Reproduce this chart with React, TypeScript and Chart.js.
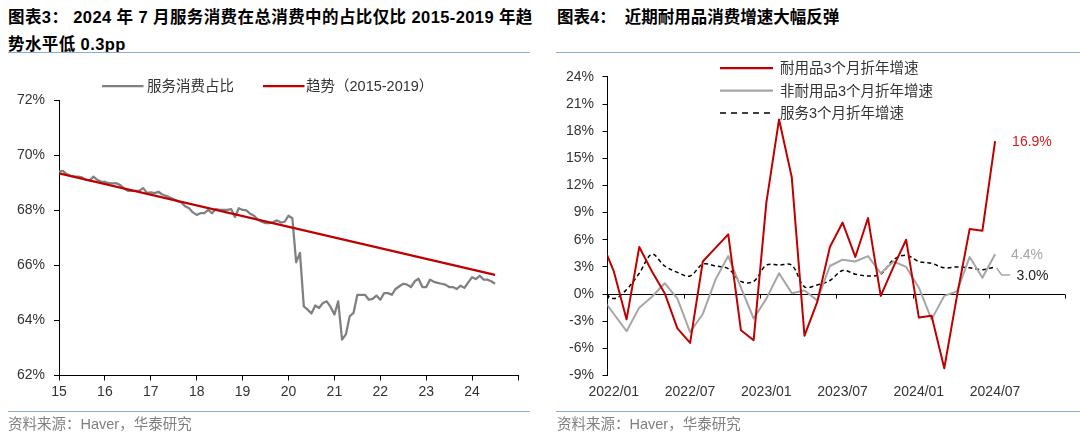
import React, { useEffect, useRef } from 'react';
import { Chart, registerables } from 'chart.js';

Chart.register(...registerables);

// ---------------- Left chart: services share of total consumption ----------------
const shareYearLabels = ['15', '16', '17', '18', '19', '20', '21', '22', '23', '24'];
const shareFirstYear = 15; // monthly series starts 2015/01
// monthly, 2015/01 .. 2024/07 (%)
const serviceShare = [
  69.40, 69.43, 69.31, 69.25, 69.23, 69.22, 69.19, 69.10, 69.08, 69.22, 69.10, 69.04,
  69.03, 68.98, 68.97, 68.98, 68.91, 68.79, 68.70, 68.70, 68.70, 68.71, 68.80, 68.63,
  68.65, 68.62, 68.67, 68.57, 68.52, 68.46, 68.40, 68.33, 68.28, 68.14, 68.07, 67.92,
  67.83, 67.89, 67.89, 68.01, 67.89, 68.04, 68.01, 68.01, 68.01, 68.04, 67.75, 68.07,
  68.01, 67.99, 67.87, 67.80, 67.65, 67.58, 67.53, 67.53, 67.57, 67.63, 67.55, 67.58,
  67.80, 67.71, 66.11, 66.45, 64.51, 64.39, 64.25, 64.54, 64.45, 64.63, 64.69, 64.49,
  64.21, 64.69, 63.30, 63.49, 64.15, 64.27, 64.93, 64.93, 64.93, 64.75, 64.78, 64.90,
  64.75, 64.99, 64.99, 64.93, 65.14, 65.24, 65.33, 65.30, 65.21, 65.42, 65.51, 65.21,
  65.21, 65.48, 65.40, 65.36, 65.33, 65.30, 65.21, 65.21, 65.14, 65.26, 65.18, 65.38,
  65.57, 65.50, 65.62, 65.48, 65.48, 65.42, 65.33,
];
// 2015-2019 trend line, endpoints at 2015/01 and 2024/07
const trendMonthIndex = [0, 114];
const trendValues = [69.34, 65.65];

// ---------------- Right chart: 3-month annualized growth ----------------
const growthMonths = [
  '2021/12',
  '2022/01', '2022/02', '2022/03', '2022/04', '2022/05', '2022/06',
  '2022/07', '2022/08', '2022/09', '2022/10', '2022/11', '2022/12',
  '2023/01', '2023/02', '2023/03', '2023/04', '2023/05', '2023/06',
  '2023/07', '2023/08', '2023/09', '2023/10', '2023/11', '2023/12',
  '2024/01', '2024/02', '2024/03', '2024/04', '2024/05', '2024/06',
  '2024/07',
];
const growthTickLabels = ['2022/01', '2022/07', '2023/01', '2023/07', '2024/01', '2024/07'];
const durableGrowth = [
  5.9,
  2.5, -2.8, 5.2, 2.5, 0.1, -3.8,
  -5.4, 3.6, 5.1, 6.6, -4.0, -5.1,
  10.1, 19.3, 12.9, -4.6, -0.9, 5.2,
  7.9, 4.1, 8.4, -0.2, 3.0, 6.0,
  -2.6, -2.4, -8.2, -0.2, 7.2, 7.0,
  16.9,
];
const nondurableGrowth = [
  -0.3,
  -2.2, -4.1, -1.5, -0.3, 1.2, -0.5,
  -4.2, -2.2, 1.6, 4.2, 0.7, -2.7,
  -0.5, 2.3, 0.1, 0.4, -0.7, 3.1,
  3.8, 3.6, 4.2, 2.3, 3.6, 3.0,
  0.7, -2.8, -0.2, 0.3, 4.1, 1.8,
  4.4,
];
const servicesGrowth = [
  0.5,
  -0.5, 0.5, 2.3, 4.4, 3.1, 2.4,
  2.0, 3.3, 3.1, 2.8, 1.4, 1.4,
  3.2, 3.2, 3.2, 0.8, 1.0, 1.5,
  2.6, 2.2, 2.0, 2.2, 3.8, 4.3,
  3.6, 3.4, 2.9, 3.0, 2.9, 2.7,
  3.0,
];

const RED = '#C00000';
const GREY_DARK = '#808080';
const GREY_LIGHT = '#A6A6A6';
const TEXT = '#333333';
const RULE = '#8EA9DB';
const FONT = "'Liberation Sans', 'Noto Sans CJK SC', Arial, sans-serif";

Chart.defaults.font.family = "'Liberation Sans', Arial, sans-serif";

function monthPos(label: string): number {
  const [y, m] = label.split('/').map(Number);
  return (y - 2022) * 12 + (m - 1) + 0.5;
}

const growthOverlay = {
  id: 'growthOverlay',
  beforeDatasetsDraw(chart: any) {
    const { ctx, chartArea, scales } = chart;
    const x = scales.x;
    const y = scales.y;
    const y0 = Math.round(y.getPixelForValue(0)) + 0.5;
    ctx.save();
    ctx.strokeStyle = '#000';
    ctx.lineWidth = 1;
    ctx.beginPath();
    ctx.moveTo(chartArea.left, y0);
    ctx.lineTo(chartArea.right, y0);
    x.ticks.forEach((t: any) => {
      const px = Math.round(x.getPixelForValue(t.value)) + 0.5;
      ctx.moveTo(px, y0);
      ctx.lineTo(px, y0 + 4);
    });
    ctx.stroke();
    ctx.restore();
  },
  afterDatasetsDraw(chart: any) {
    const { ctx } = chart;
    const last = growthMonths.length - 1;
    const pD = chart.getDatasetMeta(0).data[last];
    const pN = chart.getDatasetMeta(1).data[last];
    const pS = chart.getDatasetMeta(2).data[last];
    ctx.save();
    ctx.font = "14px 'Liberation Sans', Arial, sans-serif";
    ctx.textBaseline = 'middle';
    ctx.textAlign = 'left';
    ctx.fillStyle = '#D7191C';
    ctx.fillText(`${durableGrowth[last].toFixed(1)}%`, pD.x + 17, pD.y + 1);
    ctx.fillStyle = GREY_LIGHT;
    ctx.fillText(`${nondurableGrowth[last].toFixed(1)}%`, pN.x + 16, pN.y + 1);
    // leader line for services label
    ctx.strokeStyle = GREY_LIGHT;
    ctx.lineWidth = 1.5;
    ctx.beginPath();
    ctx.moveTo(pS.x + 1.5, pS.y + 1);
    ctx.lineTo(pS.x + 6.5, pS.y + 8);
    ctx.lineTo(pS.x + 15, pS.y + 8);
    ctx.stroke();
    ctx.fillStyle = '#222';
    ctx.fillText(`${servicesGrowth[last].toFixed(1)}%`, pS.x + 21.5, pS.y + 9.5);
    ctx.restore();
  },
};

function abs(left: number, cy: number, size: number, extra: any = {}): React.CSSProperties {
  return {
    position: 'absolute',
    left,
    top: cy - 10,
    height: 20,
    lineHeight: '20px',
    fontSize: size,
    fontFamily: FONT,
    whiteSpace: 'pre',
    color: TEXT,
    ...extra,
  };
}

export default function App() {
  const leftRef = useRef<HTMLCanvasElement | null>(null);
  const rightRef = useRef<HTMLCanvasElement | null>(null);

  useEffect(() => {
    document.body.style.margin = '0';
    const axisTicks = { color: TEXT, font: { size: 14 } };
    const left = new Chart(leftRef.current as HTMLCanvasElement, {
      type: 'line',
      data: {
        datasets: [
          {
            label: '趋势（2015-2019）',
            data: trendMonthIndex.map((m, k) => ({ x: shareFirstYear + m / 12, y: trendValues[k] })),
            borderColor: RED,
            borderWidth: 2.25,
            pointRadius: 0,
            tension: 0,
          },
          {
            label: '服务消费占比',
            data: serviceShare.map((v, i) => ({ x: shareFirstYear + i / 12, y: v })),
            borderColor: GREY_DARK,
            borderWidth: 2.25,
            borderJoinStyle: 'round',
            pointRadius: 0,
            tension: 0,
          },
        ],
      },
      options: {
        responsive: false,
        animation: false,
        devicePixelRatio: 1,
        events: [],
        layout: { padding: { top: 40, right: 22, left: 0, bottom: 0 } },
        plugins: { legend: { display: false }, tooltip: { enabled: false } },
        scales: {
          x: {
            type: 'linear',
            min: 15,
            max: 25,
            afterFit: (s: any) => { s.height = 34.5; },
            ticks: {
              ...axisTicks,
              stepSize: 1,
              autoSkip: false,
              maxRotation: 0,
              padding: 3,
              callback: (v: any) => shareYearLabels[Number(v) - shareFirstYear] ?? '',
            },
            grid: { drawOnChartArea: false, color: '#000', tickLength: 5, lineWidth: 1 },
            border: { color: '#000', width: 1 },
          },
          y: {
            type: 'linear',
            min: 62,
            max: 72,
            afterFit: (s: any) => { s.width = 59; },
            ticks: { ...axisTicks, stepSize: 2, padding: 9, callback: (v: any) => `${v}%` },
            grid: { drawOnChartArea: false, color: '#000', tickLength: 5, lineWidth: 1 },
            border: { color: '#000', width: 1 },
          },
        },
      } as any,
    });

    const right = new Chart(rightRef.current as HTMLCanvasElement, {
      type: 'line',
      data: {
        datasets: [
          {
            label: '耐用品3个月折年增速',
            data: growthMonths.map((m, i) => ({ x: monthPos(m), y: durableGrowth[i] })),
            borderColor: RED,
            borderWidth: 2,
            borderJoinStyle: 'round',
            pointRadius: 0,
            tension: 0,
          },
          {
            label: '非耐用品3个月折年增速',
            data: growthMonths.map((m, i) => ({ x: monthPos(m), y: nondurableGrowth[i] })),
            borderColor: GREY_LIGHT,
            borderWidth: 2,
            borderJoinStyle: 'round',
            pointRadius: 0,
            tension: 0,
          },
          {
            label: '服务3个月折年增速',
            data: growthMonths.map((m, i) => ({ x: monthPos(m), y: servicesGrowth[i] })),
            borderColor: '#000',
            borderWidth: 1.5,
            borderDash: [4, 3],
            pointRadius: 0,
            tension: 0.35,
          },
        ],
      },
      options: {
        responsive: false,
        animation: false,
        devicePixelRatio: 1,
        events: [],
        layout: { padding: { top: 12.5, right: 15, left: 0, bottom: 0 } },
        plugins: { legend: { display: false }, tooltip: { enabled: false } },
        scales: {
          x: {
            type: 'linear',
            min: 0,
            max: 36,
            afterFit: (s: any) => { s.height = 34.5; },
            ticks: {
              ...axisTicks,
              stepSize: 6,
              autoSkip: false,
              maxRotation: 0,
              padding: 8,
              labelOffset: 6.35,
              callback: (v: any) => growthTickLabels[Number(v) / 6] ?? '',
            },
            grid: { display: false, drawTicks: false },
            border: { display: false },
          },
          y: {
            type: 'linear',
            min: -9,
            max: 24,
            afterFit: (s: any) => { s.width = 67.5; },
            ticks: { ...axisTicks, stepSize: 3, padding: 8.5, callback: (v: any) => `${v}%` },
            grid: { drawOnChartArea: false, color: '#000', tickLength: 5, lineWidth: 1 },
            border: { color: '#000', width: 1 },
          },
        },
      } as any,
      plugins: [growthOverlay],
    });

    return () => {
      left.destroy();
      right.destroy();
    };
  }, []);

  return (
    <div
      style={{
        position: 'fixed',
        left: 0,
        top: 0,
        width: 1080,
        height: 434,
        background: '#fff',
        overflow: 'hidden',
      }}
    >
      {/* titles */}
      <div style={abs(8, 17, 16.5, { fontWeight: 700, color: '#000', letterSpacing: '0.4px' })}>
        {'图表3： 2024 年 7 月服务消费在总消费中的占比仅比 2015-2019 年趋'}
      </div>
      <div style={abs(8, 44, 16.5, { fontWeight: 700, color: '#000', letterSpacing: '0.4px' })}>
        {'势水平低 0.3pp'}
      </div>
      <div style={abs(557, 17, 16.5, { fontWeight: 700, color: '#000' })}>
        {'图表4：  近期耐用品消费增速大幅反弹'}
      </div>

      <canvas
        ref={leftRef}
        width={540}
        height={350}
        style={{ position: 'absolute', left: 0, top: 60, width: 540, height: 350 }}
      />
      <canvas
        ref={rightRef}
        width={540}
        height={350}
        style={{ position: 'absolute', left: 540, top: 60, width: 540, height: 350 }}
      />

      {/* rules and legend samples */}
      <svg
        width={1080}
        height={434}
        style={{ position: 'absolute', left: 0, top: 0, pointerEvents: 'none' }}
      >
        <line x1={8} y1={52.5} x2={530} y2={52.5} stroke={RULE} strokeWidth={1.2} />
        <line x1={556} y1={52.5} x2={1080} y2={52.5} stroke={RULE} strokeWidth={1.2} />
        <line x1={8} y1={411.5} x2={530} y2={411.5} stroke={RULE} strokeWidth={1.2} />
        <line x1={556} y1={411.5} x2={1080} y2={411.5} stroke={RULE} strokeWidth={1.2} />

        <line x1={102} y1={86} x2={143.5} y2={86} stroke={GREY_DARK} strokeWidth={2.25} />
        <line x1={263} y1={86} x2={304.5} y2={86} stroke={RED} strokeWidth={2.25} />

        <line x1={720} y1={68} x2={773} y2={68} stroke={RED} strokeWidth={2.25} />
        <line x1={720} y1={90.5} x2={773} y2={90.5} stroke={GREY_LIGHT} strokeWidth={2.25} />
        <line
          x1={720}
          y1={113}
          x2={773}
          y2={113}
          stroke="#000"
          strokeWidth={1.5}
          strokeDasharray="6 5"
        />
      </svg>

      {/* legends */}
      <div style={abs(147, 86, 14.5)}>{'服务消费占比'}</div>
      <div style={abs(306, 86, 14.5)}>{'趋势（2015-2019）'}</div>
      <div style={abs(780, 68, 14.5)}>{'耐用品3个月折年增速'}</div>
      <div style={abs(780, 90.5, 14.5)}>{'非耐用品3个月折年增速'}</div>
      <div style={abs(780, 113, 14.5)}>{'服务3个月折年增速'}</div>

      {/* sources */}
      <div style={abs(8, 424, 14.5, { color: '#7F7F7F' })}>{'资料来源：Haver，华泰研究'}</div>
      <div style={abs(557, 424, 14.5, { color: '#7F7F7F' })}>{'资料来源：Haver，华泰研究'}</div>
    </div>
  );
}
